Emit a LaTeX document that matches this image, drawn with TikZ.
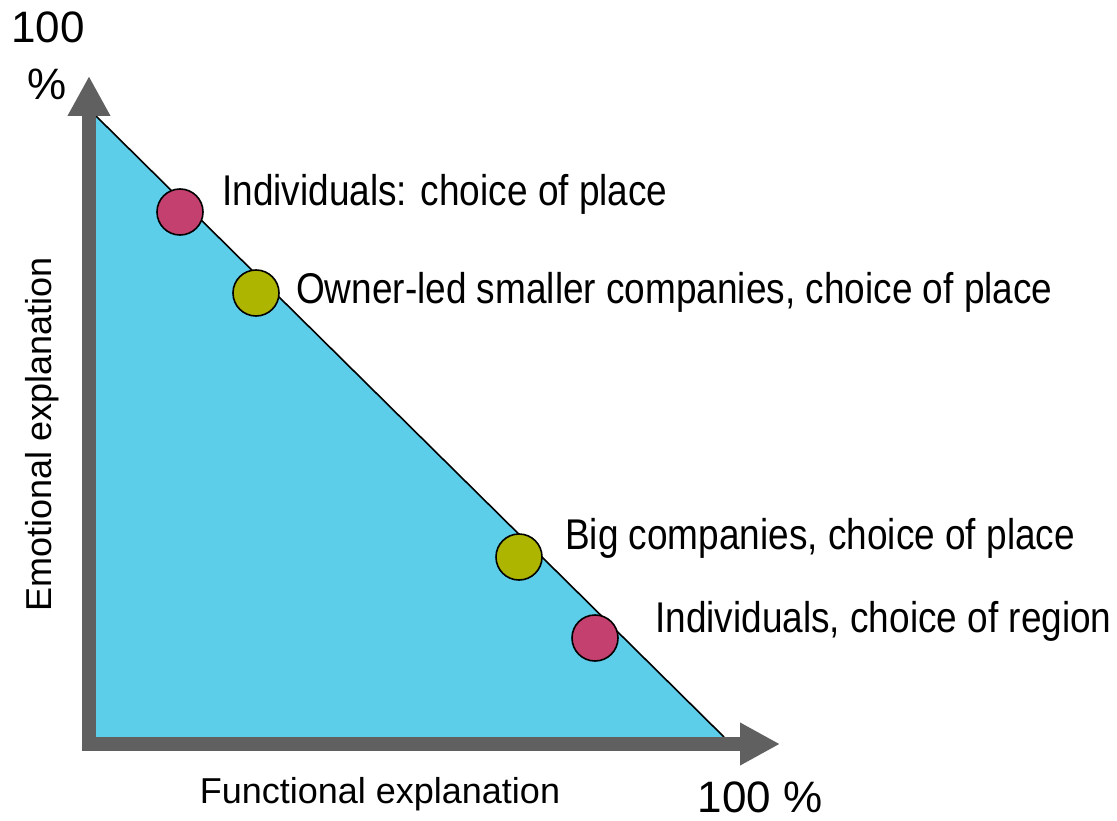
\documentclass[tikz,border=0pt]{standalone}
\usepackage{fontspec}
\setmainfont{Liberation Sans}
\newfontfamily\labelfont[FakeStretch=0.86]{Liberation Sans}
\usetikzlibrary{arrows.meta}

\definecolor{areacyan}{HTML}{5DCEE9}
\definecolor{dotred}{HTML}{C4406F}
\definecolor{dotolive}{HTML}{ADB500}
\definecolor{axisgray}{HTML}{606060}

\tikzset{
  axis/.style={draw=axisgray, line width=14pt, line join=miter,
    {Triangle[length=40pt,width=40pt]}-{Triangle[length=40pt,width=40pt]}},
  dot/.style={circle, draw=black, line width=1.6pt, minimum size=46pt, inner sep=0pt},
  pointlabel/.style={anchor=base west, inner sep=0pt,
    font=\labelfont\fontsize{43}{50}\selectfont},
  axislabel/.style={inner sep=0pt, font=\fontsize{36}{42}\selectfont},
  endlabel/.style={inner sep=0pt, font=\fontsize{44}{50}\selectfont}
}

\begin{document}
\begin{tikzpicture}[x=1pt, y=-1pt]
  \useasboundingbox (0,0) rectangle (1117,821);

  % corners of the shaded region
  \coordinate (top) at (96,116);
  \coordinate (origin) at (96,737);
  \coordinate (right) at (724,737);

  \fill[areacyan] (top) -- (origin) -- (right) -- cycle;
  \draw[black, line width=1.6pt] (top) -- (right);

  % axes
  \coordinate (ytip) at (89,76);
  \coordinate (corner) at (89,744);
  \coordinate (xtip) at (780,744);
  \draw[axis] (ytip) -- (corner) -- (xtip);

  % points on the boundary
  \node[dot, fill=dotred]   (p1) at (180,212) {};
  \node[dot, fill=dotolive] (p2) at (256,293) {};
  \node[dot, fill=dotolive] (p3) at (519,557) {};
  \node[dot, fill=dotred]   (p4) at (595,638) {};

  \node[pointlabel] (l1) at (222,206) {Individuals: choice of place};
  \node[pointlabel] (l2) at (296,304) {Owner-led smaller companies, choice of place};
  \node[pointlabel] (l3) at (565,549) {Big companies, choice of place};
  \node[pointlabel] (l4) at (655,632) {Individuals, choice of region};

  % axis captions
  \node[axislabel, anchor=base, rotate=90] (ylab) at (51,434) {Emotional explanation};
  \node[axislabel, anchor=base] (xlab) at (380,803) {Functional explanation};
  \node[endlabel, anchor=base] (ymax1) at (48,43) {100};
  \node[endlabel, anchor=base] (ymax2) at (47,100) {\%};
  \node[endlabel, anchor=base, text depth=0pt] (xmax) at (760,812) {100 \%};
\end{tikzpicture}
\end{document}
